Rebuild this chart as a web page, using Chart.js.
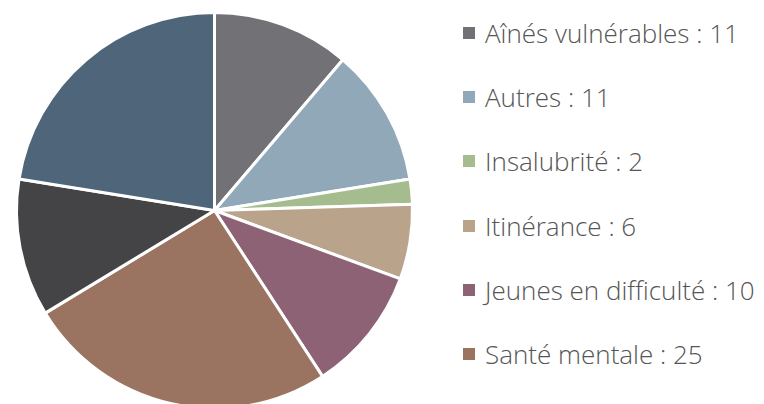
<!DOCTYPE html>
<html lang="fr">
<head>
<meta charset="utf-8">
<script src="https://cdn.jsdelivr.net/npm/chart.js@4.4.1/dist/chart.umd.min.js"></script>
<style>
  html, body { margin: 0; padding: 0; background: #fff; overflow: hidden; }
  #page { position: relative; width: 764px; height: 404px; overflow: hidden; }
  #graphique { position: absolute; left: 0; top: 0; }
  #legende { position: absolute; left: 463px; top: 1px; margin: 0; padding: 0; list-style: none;
    font-family: "Open Sans", sans-serif; font-size: 26px; font-weight: 300; color: #555555; }
  #legende li { height: 64.2px; display: flex; align-items: center; white-space: nowrap; }
  #legende .carre { width: 12px; height: 12px; margin-right: 10px; flex: none; }
</style>
</head>
<body>
<div id="page">
  <canvas id="graphique" width="430" height="420"></canvas>
  <ul id="legende"></ul>
</div>
<script>
const categories = ['Aînés vulnérables', 'Autres', 'Insalubrité', 'Itinérance',
  'Jeunes en difficulté', 'Santé mentale', 'Toxicomanie', 'Violence'];
const valeurs = [11, 11, 2, 6, 10, 25, 11, 22];
const couleurs = ['#727176', '#91a8b9', '#a5bc8e', '#b9a38b',
  '#8e6275', '#9a7460', '#444446', '#4f667a'];

// legende en HTML, construite a partir des elements de la legende Chart.js
const legendeHtml = {
  id: 'legendeHtml',
  afterUpdate(chart) {
    const ul = document.getElementById('legende');
    ul.innerHTML = '';
    const items = chart.options.plugins.legend.labels.generateLabels(chart);
    items.forEach(item => {
      const li = document.createElement('li');
      const carre = document.createElement('span');
      carre.className = 'carre';
      carre.style.background = item.fillStyle;
      const texte = document.createElement('span');
      texte.textContent = item.text + ' : ' + valeurs[item.index];
      li.appendChild(carre);
      li.appendChild(texte);
      ul.appendChild(li);
    });
  }
};

const ctx = document.getElementById('graphique').getContext('2d');
new Chart(ctx, {
  type: 'pie',
  data: {
    labels: categories,
    datasets: [{
      data: valeurs,
      backgroundColor: couleurs,
      borderColor: '#ffffff',
      borderWidth: 3
    }]
  },
  options: {
    responsive: false,
    animation: false,
    layout: { padding: { left: 15, top: 11, right: 16, bottom: 10 } },
    plugins: {
      legend: { display: false },
      tooltip: { enabled: false }
    }
  },
  plugins: [legendeHtml]
});
</script>
</body>
</html>
